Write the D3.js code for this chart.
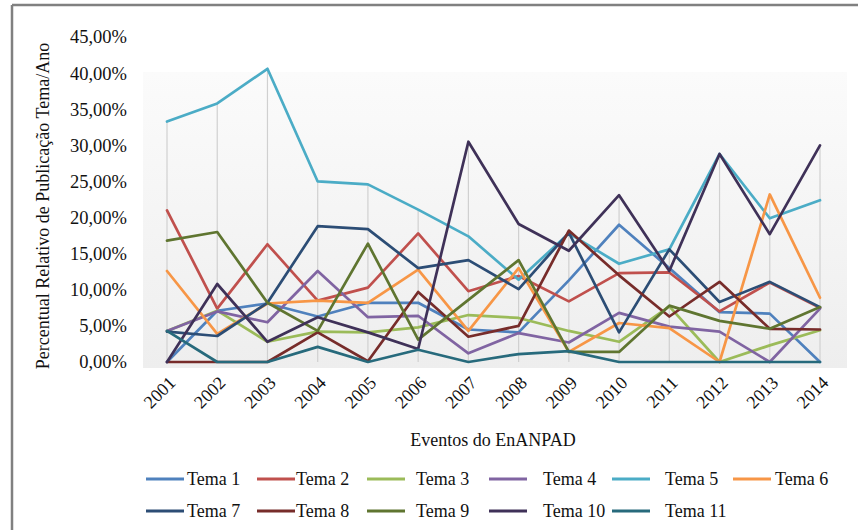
<!DOCTYPE html>
<html>
<head>
<meta charset="utf-8">
<script src="https://cdn.jsdelivr.net/npm/d3@7"></script>
<style>
  html, body { margin: 0; padding: 0; background: #fff; }
  svg { display: block; }
  text { font-family: "Liberation Serif", "Times New Roman", serif; fill: #111; }
</style>
</head>
<body>
<svg id="chart" width="858" height="530"></svg>
<script>
const years = ["2001","2002","2003","2004","2005","2006","2007","2008","2009","2010","2011","2012","2013","2014"];
const seriesNames = ["Tema 1","Tema 2","Tema 3","Tema 4","Tema 5","Tema 6","Tema 7","Tema 8","Tema 9","Tema 10","Tema 11"];
const yTicks = [0, 5, 10, 15, 20, 25, 30, 35, 40, 45];

const tema1  = [0.0, 7.1, 8.1, 6.3, 8.2, 8.2, 4.5, 4.1, 11.3, 19.0, 13.0, 6.9, 6.7, 0.0];
const tema2  = [21.0, 7.4, 16.3, 8.5, 10.3, 17.8, 9.8, 11.9, 8.4, 12.3, 12.4, 7.0, 11.0, 7.5];
const tema3  = [4.3, 7.1, 2.8, 4.2, 4.1, 4.8, 6.5, 6.1, 4.3, 2.8, 7.7, 0.0, 2.3, 4.4];
const tema4  = [4.3, 7.0, 5.5, 12.6, 6.2, 6.4, 1.2, 4.0, 2.7, 6.8, 4.9, 4.2, 0.0, 7.4];
const tema5  = [33.3, 35.8, 40.6, 25.0, 24.6, 21.1, 17.4, 11.4, 17.8, 13.6, 15.6, 28.8, 19.9, 22.4];
const tema6  = [12.6, 3.9, 8.1, 8.5, 8.2, 12.8, 4.3, 13.0, 1.4, 5.4, 4.7, 0.0, 23.2, 8.9];
const tema7  = [4.2, 3.6, 8.2, 18.8, 18.4, 13.0, 14.1, 10.1, 17.9, 4.1, 15.6, 8.3, 11.1, 7.6];
const tema8  = [0.0, 0.0, 0.0, 4.1, 0.1, 9.7, 3.5, 5.0, 18.2, 12.0, 6.3, 11.1, 4.6, 4.5];
const tema9  = [16.8, 18.0, 8.2, 4.3, 16.4, 3.1, 8.6, 14.1, 1.4, 1.4, 7.8, 5.7, 4.6, 7.6];
const tema10 = [0.0, 10.8, 2.8, 6.2, 4.1, 1.8, 30.5, 19.1, 15.4, 23.1, 12.6, 28.8, 17.7, 30.0];
const tema11 = [4.3, 0.0, 0.0, 2.1, 0.0, 1.7, 0.0, 1.1, 1.5, 0.0, 0.0, 0.0, 0.0, 0.0];

const allSeries = [tema1, tema2, tema3, tema4, tema5, tema6, tema7, tema8, tema9, tema10, tema11];
const colors = ["#4F81BD","#C0504D","#9BBB59","#8064A2","#4BACC6","#F79646",
                "#2C4D75","#772C2A","#5F7530","#3F3158","#276A7C"];

const svg = d3.select("#chart");

// outer frame (left and top edges visible)
svg.append("line").attr("x1", 12).attr("y1", 5).attr("x2", 858).attr("y2", 5)
  .attr("stroke", "#808080").attr("stroke-width", 2.5);
svg.append("line").attr("x1", 12).attr("y1", 5).attr("x2", 12).attr("y2", 530)
  .attr("stroke", "#808080").attr("stroke-width", 2.5);

const x = d3.scalePoint().domain(years).range([167, 820]);
const y = d3.scaleLinear().domain([0, 45]).range([362, 37]);

// plot background gradient
const defs = svg.append("defs");
const grad = defs.append("linearGradient").attr("id", "bg").attr("x1", 0).attr("y1", 0).attr("x2", 0).attr("y2", 1);
grad.append("stop").attr("offset", "0%").attr("stop-color", "#fbfbfb");
grad.append("stop").attr("offset", "100%").attr("stop-color", "#eeeeee");
svg.append("rect").attr("x", 143).attr("y", 72).attr("width", 704).attr("height", 296)
  .attr("fill", "url(#bg)");

// drop lines
const maxes = years.map((yr, i) => d3.max(allSeries, s => s[i]));
svg.append("g").selectAll("line").data(years).join("line")
  .attr("x1", d => x(d)).attr("x2", d => x(d))
  .attr("y1", (d, i) => y(maxes[i])).attr("y2", y(0))
  .attr("stroke", "#d0d0d0").attr("stroke-width", 1.2);

// y axis
const yAxis = d3.axisLeft(y).tickValues(yTicks)
  .tickFormat(v => d3.format(".2f")(v).replace(".", ",") + "%")
  .tickSize(0).tickPadding(0);
const gy = svg.append("g").attr("transform", "translate(127,0)").call(yAxis);
gy.select(".domain").remove();
gy.selectAll("text").attr("font-size", 18.5).attr("font-family", "Liberation Serif").attr("fill", "#111");

// x axis labels
const xAxis = d3.axisBottom(x).tickSize(0).tickPadding(0);
const gx = svg.append("g").attr("transform", "translate(0,362)").call(xAxis);
gx.select(".domain").remove();
gx.selectAll("text")
  .attr("font-size", 18).attr("font-family", "Liberation Serif").attr("fill", "#111")
  .attr("text-anchor", "end")
  .attr("dy", null).attr("y", null)
  .attr("transform", "translate(9,22) rotate(-45)");

// lines
const lineGen = d3.line().x((d, i) => x(years[i])).y(d => y(d));
svg.append("g").selectAll("path").data(allSeries).join("path")
  .attr("d", d => lineGen(d))
  .attr("fill", "none")
  .attr("stroke", (d, i) => colors[i])
  .attr("stroke-width", 2.7)
  .attr("stroke-linejoin", "round")
  .attr("stroke-linecap", "round");

// axis titles
svg.append("text").attr("x", 493).attr("y", 446).attr("text-anchor", "middle")
  .attr("font-size", 18).text("Eventos do EnANPAD");
svg.append("text").attr("transform", "translate(49,206) rotate(-90)").attr("text-anchor", "middle")
  .attr("font-size", 18).text("Percentual Relativo de Publicação Tema/Ano");

// legend
const legLineX = [146, 257, 367, 489, 612, 733];
const legTextX = [187, 296, 416, 543, 665, 775];
const legRowY = [479, 511];
const leg = svg.append("g");
seriesNames.forEach((name, i) => {
  const col = i % 6, row = Math.floor(i / 6);
  const g = leg.append("g");
  g.append("line").attr("x1", legLineX[col]).attr("x2", legLineX[col] + 38)
    .attr("y1", legRowY[row]).attr("y2", legRowY[row])
    .attr("stroke", colors[i]).attr("stroke-width", 3);
  g.append("text").attr("x", legTextX[col]).attr("y", legRowY[row]).attr("dy", "0.35em")
    .attr("font-size", 18).text(name);
});
</script>
</body>
</html>
